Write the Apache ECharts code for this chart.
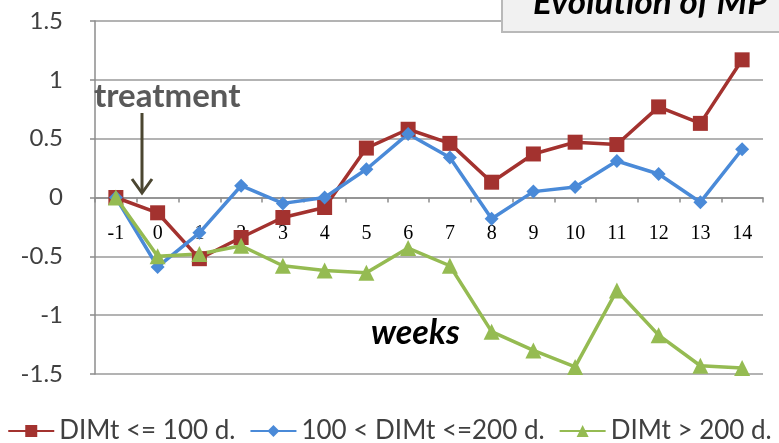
<!DOCTYPE html>
<html>
<head>
<meta charset="utf-8">
<script src="https://cdn.jsdelivr.net/npm/echarts@6/dist/echarts.min.js"></script>
<style>
  html, body { margin: 0; padding: 0; background: #fff; }
  #chart { width: 779px; height: 443px; }
</style>
</head>
<body>
<div id="chart"></div>
<script>
// Weeks relative to treatment
const weeks = ['-1', '0', '1', '2', '3', '4', '5', '6', '7', '8', '9', '10', '11', '12', '13', '14'];

// Group means by days in milk at treatment
const dimLow = [0, -0.13, -0.52, -0.34, -0.17, -0.085, 0.42, 0.58, 0.46, 0.13, 0.37, 0.47, 0.45, 0.77, 0.63, 1.17];
const dimMid = [0, -0.59, -0.30, 0.10, -0.05, 0.0, 0.24, 0.54, 0.34, -0.18, 0.05, 0.09, 0.31, 0.20, -0.04, 0.41];
const dimHigh = [0, -0.50, -0.48, -0.41, -0.58, -0.62, -0.64, -0.43, -0.58, -1.14, -1.30, -1.44, -0.79, -1.17, -1.43, -1.45];

const seriesNames = ['DIMt <= 100 d.', '100 < DIMt <=200 d.', 'DIMt > 200 d.'];
const yTicks = ['-1.5', '-1', '-0.5', '0', '0.5', '1', '1.5'];

const W = 779, H = 443;
const gridTop = 21, gridBottom = 69;
// the category axis crosses the value axis at 0, halfway down the plot
const zeroShift = -(H - gridTop - gridBottom) / 2;

const chart = echarts.init(document.getElementById('chart'));

const sans = "Lato, 'Open Sans', sans-serif";

function lineSeries(name, data, color, symbol, size) {
  return {
    name: name,
    type: 'line',
    data: data,
    symbol: symbol,
    symbolSize: size,
    lineStyle: { color: color, width: 3.5 },
    itemStyle: { color: color },
    z: 3
  };
}

chart.setOption({
  animation: false,
  grid: { left: 95, right: 16, top: gridTop, bottom: gridBottom },
  xAxis: {
    type: 'category',
    data: weeks,
    boundaryGap: true,
    offset: zeroShift,
    axisLine: { onZero: false, lineStyle: { color: '#8c8c8c', width: 1.5 } },
    axisTick: { show: true, length: 5, lineStyle: { color: '#8c8c8c', width: 1.5 } },
    axisLabel: {
      margin: 26,
      fontFamily: "'Liberation Serif', 'DejaVu Serif', serif",
      fontSize: 20,
      color: '#000'
    },
    splitLine: { show: false }
  },
  yAxis: {
    type: 'value',
    min: -1.5,
    max: 1.5,
    interval: 0.5,
    axisLine: { show: true, lineStyle: { color: '#8c8c8c', width: 1.5 } },
    axisTick: { show: true, length: 5, inside: false, lineStyle: { color: '#8c8c8c', width: 1.5 } },
    axisLabel: {
      margin: 32,
      fontFamily: sans,
      fontSize: 24,
      color: '#404040',
      formatter: function (v) {
        const s = String(Math.round(v * 10) / 10);
        return yTicks.indexOf(s) >= 0 ? s : '';
      }
    },
    splitLine: { lineStyle: { color: '#9a9a9a', width: 1.5 } }
  },
  legend: {
    top: 413,
    left: 'center',
    itemWidth: 46,
    itemHeight: 15,
    itemGap: 14,
    textStyle: { fontFamily: sans, fontSize: 26, color: '#404040' },
    data: seriesNames
  },
  series: [
    lineSeries(seriesNames[0], dimLow, '#a3322f', 'rect', 15),
    lineSeries(seriesNames[1], dimMid, '#4a8ad8', 'diamond', 14),
    lineSeries(seriesNames[2], dimHigh, '#95bb52', 'triangle', 16)
  ],
  graphic: [
    {
      type: 'rect',
      shape: { x: 502, y: -6, width: 300, height: 38 },
      style: { fill: '#f1f1f1', stroke: '#b9b9b9', lineWidth: 2 },
      z: 10
    },
    {
      type: 'text',
      x: 533,
      y: 20,
      style: {
        text: 'Evolution of MP',
        fontFamily: sans,
        fontWeight: 'bold',
        fontStyle: 'italic',
        fontSize: 35,
        fill: '#000',
        textVerticalAlign: 'bottom'
      },
      z: 11
    },
    {
      type: 'text',
      x: 94,
      y: 96,
      style: {
        text: 'treatment',
        fontFamily: sans,
        fontWeight: 'bold',
        fontSize: 33,
        fill: '#595959',
        textVerticalAlign: 'middle'
      },
      z: 10
    },
    {
      type: 'line',
      shape: { x1: 142, y1: 113, x2: 142, y2: 192 },
      style: { stroke: '#4b4631', lineWidth: 3 },
      z: 10
    },
    {
      type: 'polyline',
      shape: { points: [[132, 179], [142, 193], [152, 179]] },
      style: { stroke: '#4b4631', lineWidth: 3, fill: null },
      z: 10
    },
    {
      type: 'text',
      x: 371,
      y: 333,
      style: {
        text: 'weeks',
        fontFamily: sans,
        fontWeight: 'bold',
        fontStyle: 'italic',
        fontSize: 34,
        fill: '#000',
        textVerticalAlign: 'middle'
      },
      z: 10
    }
  ]
});
</script>
</body>
</html>
